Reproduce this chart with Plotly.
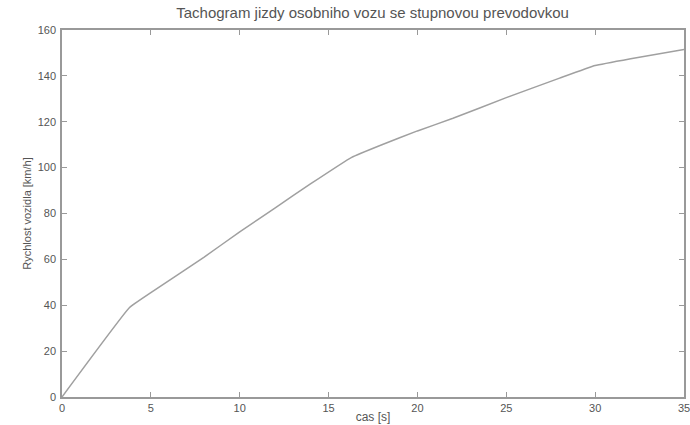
import plotly.graph_objects as go

t = [0, 3.8, 5, 8, 10, 12, 14, 16.3, 18, 20, 22, 25, 28, 30, 32, 35]
v = [0, 39, 45.5, 61, 72, 82.5, 93, 104.5, 110, 116, 121.5, 130.5, 139, 144.5, 147.5, 151.5]
xticks = [0, 5, 10, 15, 20, 25, 30, 35]
yticks = [0, 20, 40, 60, 80, 100, 120, 140, 160]

FONT = "Liberation Sans, Arial"
TXT = "#555555"

fig = go.Figure()
fig.add_trace(go.Scatter(x=t, y=v, mode="lines", line=dict(color="#a0a0a0", width=1.5, shape="spline", smoothing=0.3), showlegend=False))

axis_common = dict(showline=True, linecolor="#999999", linewidth=1.5, mirror="ticks",
                   ticks="inside", ticklen=5, tickcolor="#999999", showgrid=False, zeroline=False,
                   automargin=False,
                   tickfont=dict(family=FONT, size=11, color=TXT))
fig.update_layout(
    width=690, height=425,
    paper_bgcolor="white", plot_bgcolor="white",
    margin=dict(l=62, r=6, t=30, b=28),
    title=dict(text="Tachogram jizdy osobniho vozu se stupnovou prevodovkou", x=0.54, xanchor="center", y=0.982, yanchor="top",
               font=dict(family=FONT, size=15, color=TXT)),
    xaxis=dict(range=[0, 35], tickvals=xticks, ticklabelstandoff=0, ticklabeloverflow="allow",
               title=dict(text="cas [s]", standoff=0, font=dict(family=FONT, size=12, color=TXT)), **axis_common),
    yaxis=dict(range=[0, 160], tickvals=yticks, ticklabelstandoff=2,
               title=dict(text="Rychlost vozidla [km/h]", standoff=4, font=dict(family=FONT, size=11, color=TXT)), **axis_common),
)
fig.write_html("out.html", config={"displayModeBar": False},
               post_script="document.body.style.margin='0';document.body.style.overflow='hidden';")
